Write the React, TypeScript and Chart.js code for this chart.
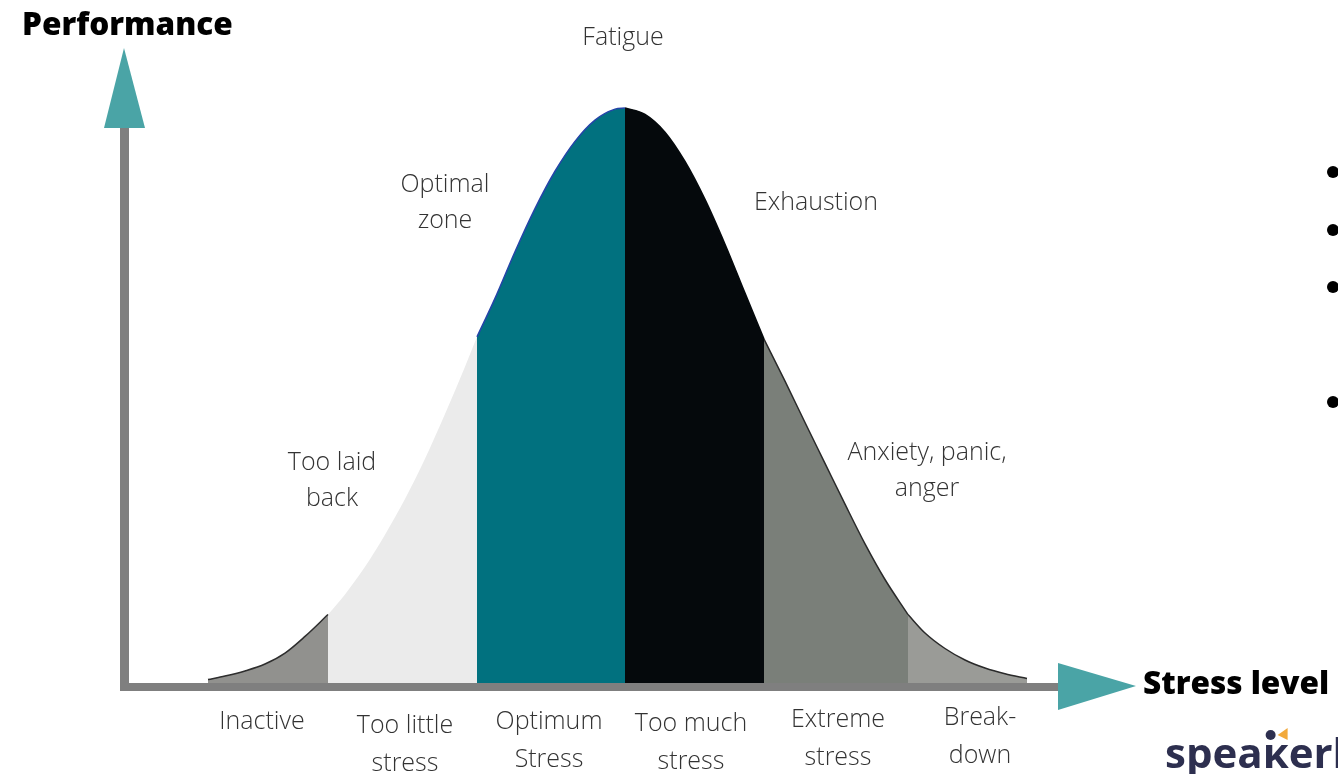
import React, { useEffect, useRef } from "react";
import { Chart, registerables } from "chart.js";

Chart.register(...registerables);

// ---- Data (stress level units on x, performance units on y) ----
const inactiveX = [8.3, 10, 12, 14, 16, 18, 20.3];
const inactiveY = [0.6, 1.2, 2.1, 3.3, 5.2, 8.1, 11.9];
const tooLittleX = [20.3, 22, 24, 26, 28, 30, 32, 34, 35.2];
const tooLittleY = [11.9, 15.4, 20.2, 25.8, 32.0, 39.0, 46.8, 55.0, 60.2];
const optimumX = [35.2, 37, 39, 41, 43, 45, 47, 49, 50];
const optimumY = [60.2, 66.9, 75.0, 82.5, 89.0, 94.2, 97.9, 99.8, 100];
const tooMuchX = [50, 52, 54, 56, 58, 60, 62, 63.9];
const tooMuchY = [100, 98.9, 95.8, 90.7, 84.1, 76.3, 67.8, 59.8];
const extremeX = [63.9, 66, 68, 70, 72, 74, 76, 78.3];
const extremeY = [59.8, 52.5, 45.3, 38.2, 31.1, 24.2, 18.0, 11.9];
const breakdownX = [78.3, 80, 82, 84, 86, 88, 90.2];
const breakdownY = [11.9, 8.7, 6.0, 4.0, 2.6, 1.6, 0.8];

// zone labels under the axis
const zoneLabels = [["Inactive"], ["Too little", "stress"], ["Optimum", "Stress"], ["Too much", "stress"], ["Extreme", "stress"], ["Break-", "down"]];
const zoneLabelX = [13.7, 28.0, 42.4, 56.6, 71.3, 85.5];

// annotations on the chart
const noteLines = [["Fatigue"], ["Optimal", "zone"], ["Exhaustion"], ["Too laid", "back"], ["Anxiety, panic,", "anger"]];
const noteX = [49.8, 32.0, 69.1, 20.7, 80.2];
const noteY = [111.0, 85.4, 82.3, 37.0, 38.8];

const zoneColors = ["#91918e", "#ebebeb", "#01717f", "#05090c", "#7a7f79", "#9a9b97"];
const zoneBorders = ["#2e2e2e", "rgba(0,0,0,0)", "#2444a8", "#05090c", "#2a2a2a", "#2a2a2a"];

const AXIS_COLOR = "#7f7f7f";
const ARROW_COLOR = "#4aa4a6";
const TEXT_COLOR = "#333333";
const LABEL_FONT = '300 25px "Open Sans"';
const TITLE_FONT = '800 31.5px "Open Sans"';

const zip = (xs: number[], ys: number[]) => xs.map((x, i) => ({ x, y: ys[i] }));

const overlayPlugin = {
  id: "overlay",
  afterDatasetsDraw(chart: any) {
    const { ctx } = chart;
    const xs = chart.scales.x;
    const ys = chart.scales.y;
    const x0 = xs.getPixelForValue(0);
    const y0 = ys.getPixelForValue(0);
    ctx.save();

    // axes
    ctx.fillStyle = AXIS_COLOR;
    ctx.fillRect(x0 - 5, 126, 9, y0 + 8 - 126);
    ctx.fillRect(x0 - 5, y0, 1060 - (x0 - 5), 8);

    // arrow heads
    ctx.fillStyle = ARROW_COLOR;
    ctx.beginPath();
    ctx.moveTo(x0 - 1, 48);
    ctx.lineTo(x0 + 20, 128);
    ctx.lineTo(x0 - 21, 128);
    ctx.closePath();
    ctx.fill();
    ctx.beginPath();
    ctx.moveTo(1058, 663);
    ctx.lineTo(1136, 686);
    ctx.lineTo(1058, 710);
    ctx.closePath();
    ctx.fill();

    // titles
    ctx.fillStyle = "#000";
    ctx.font = TITLE_FONT;
    ctx.textAlign = "left";
    ctx.textBaseline = "alphabetic";
    ctx.fillText("Performance", 22, 35);
    ctx.fillText("Stress level", 1143, 694);

    // annotations
    ctx.fillStyle = TEXT_COLOR;
    ctx.font = LABEL_FONT;
    ctx.textAlign = "center";
    noteLines.forEach((lines, i) => {
      const px = xs.getPixelForValue(noteX[i]);
      const py = ys.getPixelForValue(noteY[i]);
      lines.forEach((t, j) => ctx.fillText(t, px, py + j * 36));
    });

    // zone labels
    const base1 = [46, 50, 46, 48, 44, 42];
    zoneLabels.forEach((lines, i) => {
      const px = xs.getPixelForValue(zoneLabelX[i]);
      lines.forEach((t, j) => ctx.fillText(t, px, y0 + base1[i] + j * 38));
    });

    // bullets
    ctx.fillStyle = "#000";
    [172, 230, 287, 402].forEach((by) => {
      ctx.beginPath();
      ctx.arc(1333, by, 6, 0, Math.PI * 2);
      ctx.fill();
    });

    // logo
    ctx.textAlign = "left";
    ctx.font = 'bold 42px "Open Sans"';
    ctx.fillStyle = "#2d2f4f";
    let lx = 1165;
    ctx.fillText("spea", lx, 768);
    lx += ctx.measureText("spea").width;
    const kx = lx;
    ctx.fillText("\u0138", lx, 768);
    lx += ctx.measureText("\u0138").width;
    ctx.fillText("erhub", lx, 768);
    ctx.beginPath();
    ctx.arc(kx + 8, 735, 5, 0, Math.PI * 2);
    ctx.fill();
    ctx.fillStyle = "#f2a93b";
    ctx.beginPath();
    ctx.moveTo(kx + 15, 735);
    ctx.lineTo(kx + 25, 728);
    ctx.lineTo(kx + 25, 740);
    ctx.closePath();
    ctx.fill();

    ctx.restore();
  },
};

export default function App() {
  const ref = useRef<HTMLCanvasElement>(null);
  useEffect(() => {
    if (!ref.current) return;
    const segs = [
      zip(inactiveX, inactiveY),
      zip(tooLittleX, tooLittleY),
      zip(optimumX, optimumY),
      zip(tooMuchX, tooMuchY),
      zip(extremeX, extremeY),
      zip(breakdownX, breakdownY),
    ];
    const chart = new Chart(ref.current, {
      type: "line",
      data: {
        datasets: segs.map((d, i) => ({
          label: zoneLabels[i].join(" "),
          data: d,
          fill: "origin",
          backgroundColor: zoneColors[i],
          borderColor: zoneBorders[i],
          borderWidth: 1.5,
          pointRadius: 0,
          cubicInterpolationMode: "monotone" as const,
          clip: 6,
        })),
      },
      options: {
        responsive: false,
        animation: false,
        layout: { padding: { left: 125, right: 273, top: 108, bottom: 91 } },
        scales: {
          x: { type: "linear", min: 0, max: 94, display: false },
          y: { type: "linear", min: 0, max: 100, display: false },
        },
        plugins: { legend: { display: false }, tooltip: { enabled: false } },
      },
      plugins: [overlayPlugin],
    });
    return () => chart.destroy();
  }, []);
  return (
    <div style={{ position: "absolute", left: 0, top: 0, width: 1338, height: 774, background: "#fff" }}>
      <canvas ref={ref} width={1338} height={774} style={{ display: "block" }} />
    </div>
  );
}
